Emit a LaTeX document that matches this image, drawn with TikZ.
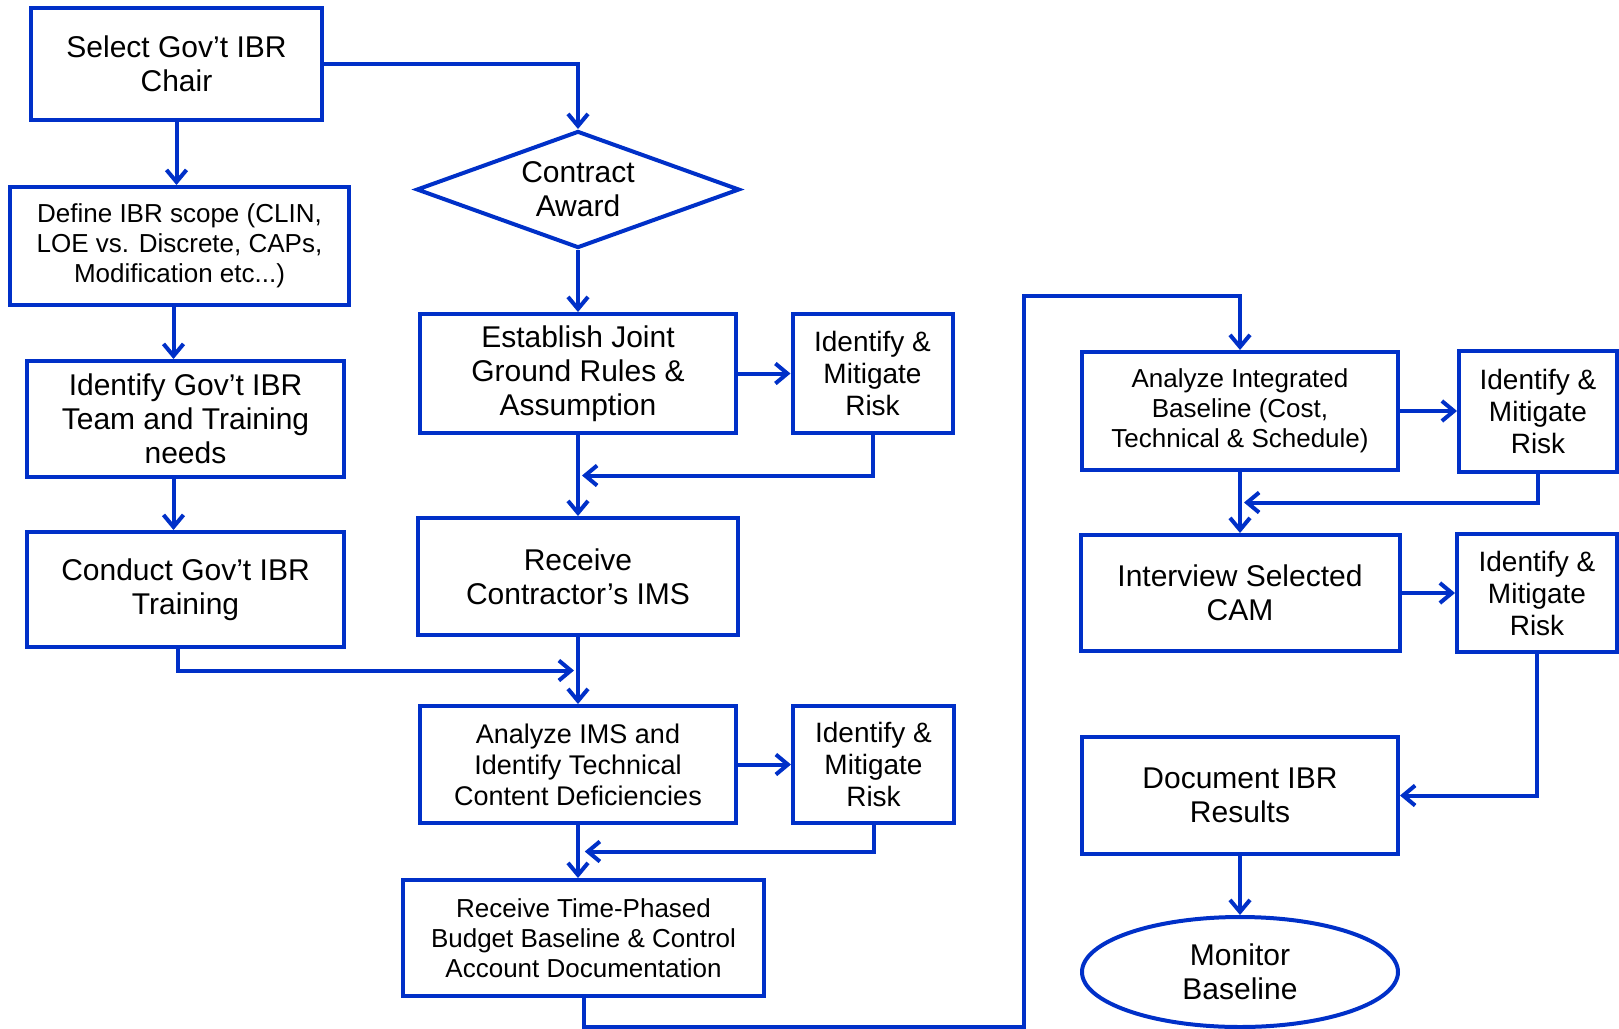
\documentclass[tikz,border=0pt]{standalone}
\usepackage{fontspec}
\setmainfont{Liberation Sans}
\usetikzlibrary{shapes.geometric,arrows.meta,calc}
\definecolor{ibrblue}{RGB}{0,48,200}

\begin{document}
\begin{tikzpicture}
  [x=0.5pt,y=-0.5pt,
   box/.style={rectangle,draw=ibrblue,line width=2pt,align=center,inner sep=2pt,font=\fontsize{15}{17}\selectfont},
   small/.style={font=\fontsize{13}{15}\selectfont},
   risk/.style={box,minimum width=80pt,minimum height=59pt,font=\fontsize{14}{16}\selectfont},
   arr/.style={draw=ibrblue,line width=2pt,-{Straight Barb[length=6pt,width=10pt]}}]
  \useasboundingbox (0,0) rectangle (1619,1029);

  % left column
  \node[box,minimum width=145.5pt,minimum height=56pt] (chair) at (176.5,64) {Select Gov't IBR\\Chair};
  \node[box,small,minimum width=169.5pt,minimum height=59pt] (scope) at (179.5,246) {Define IBR scope (CLIN,\\LOE vs. Discrete, CAPs,\\Modification etc...)};
  \node[box,minimum width=158.5pt,minimum height=58pt] (team) at (185.5,419) {Identify Gov't IBR\\Team and Training\\needs};
  \node[box,minimum width=158.5pt,minimum height=57.5pt] (train) at (185.5,589.5) {Conduct Gov't IBR\\Training};

  % middle column
  \node[diamond,draw=ibrblue,line width=2pt,inner sep=0pt,aspect=2.76,minimum width=161.5pt,minimum height=58.5pt,align=center,font=\fontsize{15}{17}\selectfont] (award) at (578,189.5) {Contract\\Award};
  \node[box,minimum width=158pt,minimum height=59.5pt] (joint) at (578,373.5) {Establish Joint\\Ground Rules \&\\Assumption};
  \node[risk,minimum height=59.5pt] (risk1) at (872.5,373.5) {Identify \&\\Mitigate\\Risk};
  \node[box,minimum width=160pt,minimum height=58.5pt] (ims) at (578,576.5) {Receive\\Contractor's IMS};
  \node[box,font=\fontsize{13.5}{15.5}\selectfont,minimum width=158pt,minimum height=58.5pt] (aims) at (578,764.5) {Analyze IMS and\\Identify Technical\\Content Deficiencies};
  \node[risk,minimum width=80.5pt,minimum height=58.5pt] (risk2) at (873.5,764.5) {Identify \&\\Mitigate\\Risk};
  \node[box,small,minimum width=180.5pt,minimum height=58pt] (budget) at (583.5,938) {Receive Time-Phased\\Budget Baseline \& Control\\Account Documentation};

  % right column
  \node[box,small,minimum width=158pt,minimum height=59pt] (aib) at (1240,411) {Analyze Integrated\\Baseline (Cost,\\Technical \& Schedule)};
  \node[risk,minimum width=79pt,minimum height=60.5pt] (risk3) at (1538,411) {Identify \&\\Mitigate\\Risk};
  \node[box,minimum width=159.5pt,minimum height=58pt] (cam) at (1240,593) {Interview Selected\\CAM};
  \node[risk] (risk4) at (1537,593) {Identify \&\\Mitigate\\Risk};
  \node[box,minimum width=158pt,minimum height=58.5pt] (doc) at (1240,795.5) {Document IBR\\Results};
  \node[ellipse,draw=ibrblue,line width=2pt,inner sep=0pt,minimum width=158pt,minimum height=55pt,align=center,font=\fontsize{15}{17}\selectfont] (monitor) at (1240,972) {Monitor\\Baseline};

  \coordinate (j1) at ($(joint.south)!0.5!(ims.north)$);
  \coordinate (j2) at ($(ims.south)!0.5!(aims.north)$);
  \coordinate (j3) at ($(aims.south)!0.5!(budget.north)$);
  \coordinate (j4) at ($(aib.south)!0.5!(cam.north)$);
  \coordinate (low) at (583.5,1027);
  \coordinate (up) at (1024,296);

  \foreach \from/\to in {award/joint, joint/ims, ims/aims, aib/cam, doc/monitor,
                         joint/risk1, aims/risk2, aib/risk3, cam/risk4}
    \draw[arr] (\from) -- (\to);

  \draw[arr] (chair) -| (award);
  \draw[arr] (chair.south) -- (chair.south |- scope.north);
  \draw[arr] ([xshift=-3pt]scope.south) -- ([xshift=-3pt]scope.south |- team.north);
  \draw[arr] ([xshift=-6pt]team.south) -- ([xshift=-6pt]team.south |- train.north);
  \draw[arr,shorten >=2pt] ([xshift=-4pt]train.south) |- (j2);
  \draw[arr,shorten >=2pt] (risk1.south) |- (j1);
  \draw[arr,shorten >=2pt] (risk2.south) |- (j3);
  \draw[arr,shorten >=2pt] (risk3.south) |- (j4);
  \draw[arr] (risk4.south) |- (doc.east);
  \draw[arr] (aims.south) -- (aims.south |- budget.north);
  \draw[arr] (budget.south) -- (low) -| (up) -| (aib.north);

\end{tikzpicture}
\end{document}
